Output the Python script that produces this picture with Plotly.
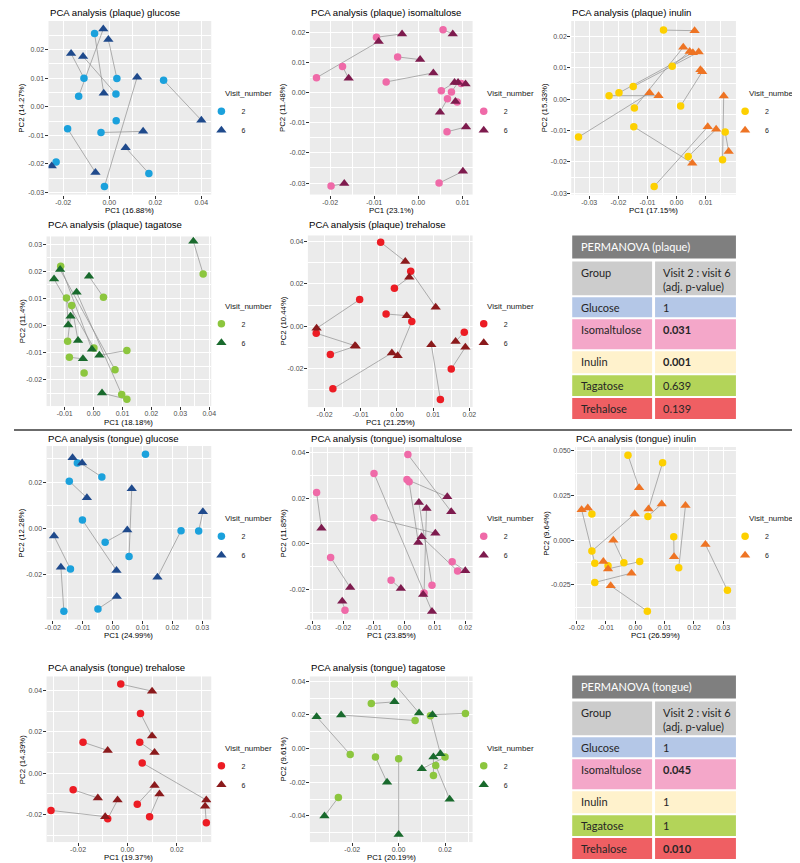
import plotly.graph_objects as go

W, H = 800, 863

# ---------------- data: index i of v2 and v6 lists = same subject (visit 2 -> visit 6) ----------------
# Plaque - glucose
pq_glu_v2_x = [-0.0064, -0.0133, 0.0033, -0.0110, 0.0029, -0.0021, 0.0236, -0.0036, 0.0172, -0.0181, -0.0231, 0.0030]
pq_glu_v2_y = [0.0256, 0.0037, 0.0099, 0.0100, 0.0045, -0.0279, 0.0093, -0.0090, -0.0233, -0.0077, -0.0193, -0.0049]
pq_glu_v6_x = [-0.0024, -0.0026, -0.0004, -0.0166, -0.0114, 0.0121, 0.0400, 0.0147, 0.0071, -0.0060, -0.0250, None]
pq_glu_v6_y = [0.0047, 0.0272, 0.0235, 0.0186, 0.0176, 0.0103, -0.0047, -0.0086, -0.0143, -0.0230, -0.0207, None]

# Plaque - isomaltulose
pq_iso_v2_x = [-0.0095, 0.0056, -0.0047, -0.0231, -0.0172, -0.0073, 0.0052, 0.0075, 0.0097, 0.0066, 0.0088, 0.0065, -0.0198, 0.0047]
pq_iso_v2_y = [0.0183, 0.0208, 0.0118, 0.0049, 0.0086, 0.0035, 0.0006, 0.0002, 0.0030, -0.0021, -0.0031, -0.0130, -0.0310, -0.0300]
pq_iso_v6_x = [-0.0037, 0.0078, 0.0004, -0.0090, -0.0158, 0.0034, 0.0082, 0.0090, 0.0107, 0.0049, 0.0084, 0.0108, -0.0168, 0.0101]
pq_iso_v6_y = [0.0194, 0.0194, 0.0109, 0.0169, 0.0047, 0.0065, 0.0033, 0.0033, 0.0028, -0.0065, -0.0030, -0.0114, -0.0301, -0.0261]

# Plaque - inulin
pq_inu_v2_x = [-0.0045, -0.0232, -0.0337, -0.0198, -0.0149, -0.0145, -0.0015, 0.0014, -0.0077, 0.0040, -0.0147, 0.0167, 0.0158, None]
pq_inu_v2_y = [0.0220, 0.0011, -0.0121, 0.0020, 0.0040, -0.0028, 0.0105, -0.0022, -0.0278, -0.0183, -0.0088, -0.0105, -0.0193, None]
pq_inu_v6_x = [0.0062, -0.0062, -0.0093, 0.0056, 0.0076, 0.0023, 0.0045, 0.0088, 0.0107, 0.0136, 0.0054, 0.0179, 0.0162, 0.0082]
pq_inu_v6_y = [0.0218, 0.0011, 0.0020, 0.0148, 0.0150, 0.0165, 0.0152, 0.0087, -0.0088, -0.0096, -0.0204, -0.0167, 0.0010, 0.0094]

# Plaque - tagatose
pq_tag_v2_x = [0.0379, 0.0034, -0.0114, 0.0001, 0.0074, -0.0094, -0.0076, 0.0097, -0.0090, -0.0084, 0.0115, 0.0115, -0.0033]
pq_tag_v2_y = [0.0190, 0.0104, 0.0218, -0.0083, -0.0163, 0.0101, 0.0074, -0.0254, -0.0058, -0.0117, -0.0092, -0.0272, -0.0175]
pq_tag_v6_x = [0.0345, -0.0016, -0.0006, -0.0137, -0.0116, -0.0088, -0.0054, -0.0059, -0.0080, -0.0037, 0.0020, 0.0029, None]
pq_tag_v6_y = [0.0310, 0.0181, -0.0088, 0.0171, 0.0206, 0.0002, -0.0055, 0.0122, 0.0034, -0.0123, -0.0110, -0.0249, None]

# Plaque - trehalose
pq_tre_v2_x = [-0.0045, -0.0007, 0.0038, -0.0030, -0.0103, -0.0223, -0.0184, -0.0177, 0.0041, 0.0120, 0.0150, 0.0186]
pq_tre_v2_y = [0.0397, 0.0180, 0.0260, 0.0058, 0.0126, -0.0033, -0.0134, -0.0296, 0.0022, -0.0346, -0.0202, -0.0028]
pq_tre_v6_x = [0.0023, 0.0034, 0.0107, 0.0027, -0.0222, -0.0116, -0.0114, -0.0014, 0.0002, 0.0095, 0.0189, 0.0162]
pq_tre_v6_y = [0.0306, 0.0231, 0.0090, 0.0050, -0.0010, -0.0092, -0.0094, -0.0126, -0.0139, -0.0088, -0.0099, -0.0072]

# Tongue - glucose
tg_glu_v2_x = [-0.0036, -0.0118, -0.0145, 0.0055, -0.0025, 0.0288, 0.0229, -0.0101, -0.0141, -0.0163, -0.0049, 0.0110]
tg_glu_v2_y = [0.0222, 0.0283, 0.0204, -0.0122, -0.0060, -0.0011, -0.0010, 0.0036, -0.0176, -0.0358, -0.0348, 0.0320]
tg_glu_v6_x = [-0.0134, -0.0102, -0.0086, 0.0064, 0.0049, 0.0302, 0.0150, 0.0013, -0.0196, -0.0173, 0.0014, None]
tg_glu_v6_y = [0.0305, 0.0283, 0.0132, 0.0171, -0.0007, 0.0072, -0.0211, -0.0182, -0.0033, -0.0168, -0.0294, None]

# Tongue - isomaltulose
tg_iso_v2_x = [-0.0287, 0.0012, 0.0009, 0.0016, -0.0099, -0.0099, 0.0175, 0.0157, -0.0241, -0.0043, 0.0091, 0.0065, -0.0194, None]
tg_iso_v2_y = [0.0226, 0.0393, 0.0283, 0.0273, 0.0310, 0.0115, -0.0119, -0.0078, -0.0059, -0.0159, -0.0181, -0.0215, -0.0291, None]
tg_iso_v6_x = [-0.0271, 0.0154, 0.0141, 0.0046, 0.0091, 0.0102, 0.0057, 0.0200, -0.0177, -0.0011, 0.0048, 0.0073, -0.0203, 0.0062]
tg_iso_v6_y = [0.0069, 0.0142, 0.0207, 0.0007, -0.0296, 0.0047, 0.0032, -0.0118, -0.0191, -0.0196, 0.0182, 0.0156, -0.0251, -0.0222]

# Tongue - inulin
tg_inu_v2_x = [-0.0025, 0.0093, -0.0138, -0.0148, -0.0148, 0.0043, 0.0148, -0.0039, 0.0015, -0.0093, -0.0138, 0.0041, 0.0131, 0.0314]
tg_inu_v2_y = [0.0476, 0.0434, -0.0130, 0.0147, -0.0061, 0.0133, -0.0154, -0.0126, -0.0120, -0.0144, -0.0237, -0.0398, 0.0019, -0.0281]
tg_inu_v6_x = [0.0013, 0.0045, -0.0183, -0.0162, -0.0002, 0.0090, 0.0171, -0.0075, -0.0093, -0.0109, -0.0013, -0.0084, 0.0132, 0.0239]
tg_inu_v6_y = [0.0293, 0.0175, 0.0171, 0.0180, 0.0147, 0.0203, 0.0194, 0.0000, -0.0161, -0.0120, -0.0185, -0.0256, -0.0093, -0.0024]

# Tongue - trehalose
tg_tre_v2_x = [-0.0027, 0.0053, -0.0180, 0.0050, 0.0060, -0.0220, -0.0310, 0.0040, 0.0320, -0.0080, 0.0090]
tg_tre_v2_y = [0.0431, 0.0289, 0.0150, 0.0150, 0.0050, -0.0080, -0.0180, -0.0150, -0.0240, -0.0220, -0.0210]
tg_tre_v6_x = [0.0100, 0.0100, -0.0080, 0.0110, 0.0320, -0.0120, -0.0090, 0.0110, 0.0315, -0.0040, 0.0130]
tg_tre_v6_y = [0.0397, 0.0180, 0.0110, 0.0100, -0.0130, -0.0120, -0.0210, -0.0060, -0.0160, -0.0130, -0.0100]

# Tongue - tagatose
tg_tag_v2_x = [-0.0018, -0.0118, 0.0288, 0.0071, 0.0137, -0.0209, -0.0260, 0.0000, 0.0160, 0.0150, -0.0100, 0.0200]
tg_tag_v2_y = [0.0384, 0.0268, 0.0209, 0.0167, 0.0196, -0.0035, -0.0290, -0.0060, -0.0100, -0.0160, -0.0050, -0.0050]
tg_tag_v6_x = [0.0088, -0.0018, 0.0146, -0.0248, 0.0180, -0.0354, -0.0320, 0.0000, 0.0220, 0.0150, -0.0050, 0.0100]
tg_tag_v6_y = [0.0212, 0.0278, 0.0202, 0.0200, -0.0030, 0.0190, -0.0400, -0.0510, -0.0300, -0.0050, -0.0200, -0.0120]

# tick labels
ticks_pq_glu_x = ["-0.02", "0.00", "0.02", "0.04"]
ticks_pq_glu_y = ["-0.03", "-0.02", "-0.01", "0.00", "0.01", "0.02"]
ticks_pq_iso_x = ["-0.02", "-0.01", "0.00", "0.01"]
ticks_pq_iso_y = ["-0.03", "-0.02", "-0.01", "0.00", "0.01", "0.02"]
ticks_pq_inu_x = ["-0.03", "-0.02", "-0.01", "0.00", "0.01"]
ticks_pq_inu_y = ["-0.03", "-0.02", "-0.01", "0.00", "0.01", "0.02"]
ticks_pq_tag_x = ["-0.01", "0.00", "0.01", "0.02", "0.03", "0.04"]
ticks_pq_tag_y = ["-0.02", "-0.01", "0.00", "0.01", "0.02", "0.03"]
ticks_pq_tre_x = ["-0.02", "-0.01", "0.00", "0.01", "0.02"]
ticks_pq_tre_y = ["-0.02", "0.00", "0.02", "0.04"]
ticks_tg_glu_x = ["-0.02", "-0.01", "0.00", "0.01", "0.02", "0.03"]
ticks_tg_glu_y = ["-0.02", "0.00", "0.02"]
ticks_tg_iso_x = ["-0.03", "-0.02", "-0.01", "0.00", "0.01", "0.02"]
ticks_tg_iso_y = ["-0.02", "0.00", "0.02", "0.04"]
ticks_tg_inu_x = ["-0.02", "-0.01", "0.00", "0.01", "0.02", "0.03"]
ticks_tg_inu_y = ["-0.025", "0.000", "0.025", "0.050"]
ticks_tg_tre_x = ["-0.02", "0.00", "0.02"]
ticks_tg_tre_y = ["-0.02", "0.00", "0.02", "0.04"]
ticks_tg_tag_x = ["-0.02", "0.00", "0.02"]
ticks_tg_tag_y = ["-0.04", "-0.02", "0.00", "0.02", "0.04"]

# PERMANOVA tables
table_groups = ["Glucose", "Isomaltulose", "Inulin", "Tagatose", "Trehalose"]
plaque_pvalues = ["1", "0.031", "0.001", "0.639", "0.139"]
tongue_pvalues = ["1", "0.045", "1", "1", "0.010"]

# ---------------- styling ----------------
COL = {
    "glucose": ("#1ba1dc", "#1f4a8c"),
    "isomaltulose": ("#ef6aa8", "#7e1b4e"),
    "inulin": ("#fdd000", "#ee7424"),
    "tagatose": ("#8cc63e", "#196a2d"),
    "trehalose": ("#ec1c24", "#8b1a1c"),
}
ROW_COL = ["#b4c7e7", "#f4a7c9", "#fff2cc", "#b3d459", "#ef5f63"]
FONT = "Liberation Sans, Arial, sans-serif"
TFONT = "Lato, Open Sans, sans-serif"

panels = [
    dict(title="PCA analysis (plaque) glucose", xlab="PC1 (16.88%)", ylab="PC2 (14.27%)", sugar="glucose",
         d=(pq_glu_v2_x, pq_glu_v2_y, pq_glu_v6_x, pq_glu_v6_y), xt=ticks_pq_glu_x, yt=ticks_pq_glu_y,
         box=(35, 200, 13, 187), xr=(-0.0264, 0.0443), yr=(-0.0307, 0.0300), ty=5, xly=203, yx=8, leg=(212, 86)),
    dict(title="PCA analysis (plaque) isomaltulose", xlab="PC1 (23.1%)", ylab="PC2 (11.48%)", sugar="isomaltulose",
         d=(pq_iso_v2_x, pq_iso_v2_y, pq_iso_v6_x, pq_iso_v6_y), xt=ticks_pq_iso_x, yt=ticks_pq_iso_y,
         box=(300, 465, 13, 187), xr=(-0.0246, 0.0123), yr=(-0.0338, 0.0237), ty=5, xly=203, yx=273, leg=(478, 86)),
    dict(title="PCA analysis (plaque) inulin", xlab="PC1 (17.15%)", ylab="PC2 (15.33%)", sugar="inulin",
         d=(pq_inu_v2_x, pq_inu_v2_y, pq_inu_v6_x, pq_inu_v6_y), xt=ticks_pq_inu_x, yt=ticks_pq_inu_y,
         box=(565, 732, 13, 187), xr=(-0.0362, 0.0204), yr=(-0.0304, 0.0249), ty=5, xly=203, yx=538, leg=(743, 86)),
    dict(title="PCA analysis (plaque) tagatose", xlab="PC1 (18.18%)", ylab="PC2 (11.4%)", sugar="tagatose",
         d=(pq_tag_v2_x, pq_tag_v2_y, pq_tag_v6_x, pq_tag_v6_y), xt=ticks_pq_tag_x, yt=ticks_pq_tag_y,
         box=(33, 200, 229, 399), xr=(-0.0163, 0.0407), yr=(-0.0297, 0.0328), ty=217, xly=415, yx=8, leg=(212, 299)),
    dict(title="PCA analysis (plaque) trehalose", xlab="PC1 (21.25%)", ylab="PC2 (10.44%)", sugar="trehalose",
         d=(pq_tre_v2_x, pq_tre_v2_y, pq_tre_v6_x, pq_tre_v6_y), xt=ticks_pq_tre_x, yt=ticks_pq_tre_y,
         box=(298, 465, 228, 400), xr=(-0.0246, 0.0209), yr=(-0.0382, 0.0429), ty=217, xly=415, yx=273, leg=(478, 299)),
    dict(title="PCA analysis (tongue) glucose", xlab="PC1 (24.99%)", ylab="PC2 (12.28%)", sugar="glucose",
         d=(tg_glu_v2_x, tg_glu_v2_y, tg_glu_v6_x, tg_glu_v6_y), xt=ticks_tg_glu_x, yt=ticks_tg_glu_y,
         box=(33, 200, 439, 613), xr=(-0.0221, 0.0330), yr=(-0.0394, 0.0356), ty=431, xly=629, yx=8, leg=(212, 512)),
    dict(title="PCA analysis (tongue) isomaltulose", xlab="PC1 (23.85%)", ylab="PC2 (11.85%)", sugar="isomaltulose",
         d=(tg_iso_v2_x, tg_iso_v2_y, tg_iso_v6_x, tg_iso_v6_y), xt=ticks_tg_iso_x, yt=ticks_tg_iso_y,
         box=(300, 465, 440, 613), xr=(-0.0309, 0.0224), yr=(-0.0332, 0.0426), ty=431, xly=629, yx=273, leg=(478, 512)),
    dict(title="PCA analysis (tongue) inulin", xlab="PC1 (26.59%)", ylab="PC2 (9.64%)", sugar="inulin",
         d=(tg_inu_v2_x, tg_inu_v2_y, tg_inu_v6_x, tg_inu_v6_y), xt=ticks_tg_inu_x, yt=ticks_tg_inu_y,
         box=(569, 732, 440, 613), xr=(-0.0205, 0.0343), yr=(-0.0445, 0.0522), ty=431, xly=629, yx=540, leg=(743, 512)),
    dict(title="PCA analysis (tongue) trehalose", xlab="PC1 (19.37%)", ylab="PC2 (14.39%)", sugar="trehalose",
         d=(tg_tre_v2_x, tg_tre_v2_y, tg_tre_v6_x, tg_tre_v6_y), xt=ticks_tg_tre_x, yt=ticks_tg_tre_y,
         box=(33, 200, 670, 836), xr=(-0.0328, 0.0340), yr=(-0.0333, 0.0468), ty=661, xly=851, yx=8, leg=(212, 742)),
    dict(title="PCA analysis (tongue) tagatose", xlab="PC1 (20.19%)", ylab="PC2 (9.61%)", sugar="tagatose",
         d=(tg_tag_v2_x, tg_tag_v2_y, tg_tag_v6_x, tg_tag_v6_y), xt=ticks_tg_tag_x, yt=ticks_tg_tag_y,
         box=(300, 465, 670, 836), xr=(-0.0383, 0.0319), yr=(-0.0555, 0.0429), ty=661, xly=851, yx=273, leg=(478, 742)),
]


def fx(p):
    return p / W


def fy(p):
    return 1 - p / H


def minors(vals, rng):
    vals = sorted(vals)
    step = vals[1] - vals[0]
    cand = [vals[0] - step / 2] + [v + step / 2 for v in vals]
    return [c for c in cand if rng[0] <= c <= rng[1]]


fig = go.Figure()
layout = dict(width=W, height=H, margin=dict(l=0, r=0, t=0, b=0), autosize=False,
              paper_bgcolor="white", plot_bgcolor="#ebebeb", font=dict(family=FONT),
              annotations=[], shapes=[])

for i, p in enumerate(panels, start=1):
    sx = "" if i == 1 else str(i)
    xa, ya = "x" + sx, "y" + sx
    lg = "legend" + sx
    v2x, v2y, v6x, v6y = p["d"]
    c2, c6 = COL[p["sugar"]]
    lx, ly = [], []
    for a, b, c, d in zip(v2x, v2y, v6x, v6y):
        if a is not None and c is not None:
            lx += [a, c, None]
            ly += [b, d, None]
    fig.add_trace(go.Scatter(x=lx, y=ly, mode="lines", line=dict(color="#8f8f8f", width=0.7),
                             xaxis=xa, yaxis=ya, showlegend=False, hoverinfo="skip"))
    fig.add_trace(go.Scatter(x=[v for v in v2x if v is not None], y=[v for v in v2y if v is not None],
                             mode="markers", name="2", legend=lg, xaxis=xa, yaxis=ya,
                             marker=dict(symbol="circle", size=7.5, color=c2, line=dict(width=0))))
    fig.add_trace(go.Scatter(x=[v for v in v6x if v is not None], y=[v for v in v6y if v is not None],
                             mode="markers", name="6", legend=lg, xaxis=xa, yaxis=ya,
                             marker=dict(symbol="triangle-up", size=9, color=c6, line=dict(width=0))))
    l, r, t, b = p["box"]
    xtv = [float(s) for s in p["xt"]]
    ytv = [float(s) for s in p["yt"]]
    common = dict(showgrid=True, gridcolor="white", gridwidth=1.1, zeroline=False, showline=False,
                  ticks="outside", ticklen=3, tickwidth=0.8, tickcolor="#333333",
                  tickfont=dict(size=7, color="#4d4d4d", family=FONT), tickmode="array")
    layout["xaxis" + sx] = dict(domain=[fx(l), fx(r)], range=list(p["xr"]), anchor=ya,
                                tickvals=xtv, ticktext=p["xt"], ticklabelstandoff=-2,
                                minor=dict(tickvals=minors(xtv, p["xr"]), showgrid=True, gridcolor="white", gridwidth=0.5),
                                **common)
    layout["yaxis" + sx] = dict(domain=[fy(b), fy(t)], range=list(p["yr"]), anchor=xa,
                                tickvals=ytv, ticktext=p["yt"], ticklabelstandoff=-1,
                                minor=dict(tickvals=minors(ytv, p["yr"]), showgrid=True, gridcolor="white", gridwidth=0.5),
                                **common)
    gx, gy = p["leg"]
    layout[lg] = dict(x=fx(gx - 22), y=fy(gy + 3), xanchor="left", yanchor="top",
                      bgcolor="rgba(0,0,0,0)", font=dict(size=7, color="#1a1a1a", family=FONT),
                      itemsizing="trace", tracegroupgap=0, itemwidth=30)
    ann = layout["annotations"]
    ann.append(dict(text="Visit_number", x=fx(gx), y=fy(gy), xref="paper", yref="paper",
                    xanchor="left", yanchor="middle", showarrow=False, font=dict(size=8, color="#1a1a1a")))
    ann.append(dict(text=p["title"], x=fx(l - 1), y=fy(p["ty"]), xref="paper", yref="paper",
                    xanchor="left", yanchor="middle", showarrow=False, font=dict(size=9.6, color="#000000")))
    ann.append(dict(text=p["xlab"], x=fx((l + r) / 2), y=fy(p["xly"]), xref="paper", yref="paper",
                    xanchor="center", yanchor="middle", showarrow=False, font=dict(size=7.8, color="#000000")))
    ann.append(dict(text=p["ylab"], x=fx(p["yx"]), y=fy((t + b) / 2), xref="paper", yref="paper",
                    xanchor="center", yanchor="middle", textangle=-90, showarrow=False,
                    font=dict(size=7.8, color="#000000")))

# tables
C1 = (566, 647)
C2 = (650, 732)


def add_table(top, title, pvals):
    shapes = layout["shapes"]
    ann = layout["annotations"]
    hdr = (top, top + 23)
    grp = (top + 26, top + 60)
    row_h = [20, 30, 22, 21, 21]
    shapes.append(dict(type="rect", xref="paper", yref="paper", x0=fx(C1[0]), x1=fx(C2[1]),
                       y0=fy(hdr[1]), y1=fy(hdr[0]), fillcolor="#7f7f7f", line=dict(width=0), layer="below"))
    ann.append(dict(text=title, x=fx(C1[0] + 7), y=fy(hdr[0] + 11.5), xref="paper", yref="paper",
                    xanchor="left", yanchor="middle", showarrow=False,
                    font=dict(family=TFONT, size=11, color="white")))
    for c in (C1, C2):
        shapes.append(dict(type="rect", xref="paper", yref="paper", x0=fx(c[0]), x1=fx(c[1]),
                           y0=fy(grp[1]), y1=fy(grp[0]), fillcolor="#cccccc", line=dict(width=0), layer="below"))
    ann.append(dict(text="Group", x=fx(C1[0] + 7), y=fy(grp[0] + 3), xref="paper", yref="paper",
                    xanchor="left", yanchor="top", showarrow=False, font=dict(family=TFONT, size=11, color="#262626")))
    ann.append(dict(text="Visit 2 : visit 6<br>(adj. p-value)", x=fx(C2[0] + 6), y=fy(grp[0] + 3),
                    xref="paper", yref="paper", xanchor="left", yanchor="top", align="left", showarrow=False,
                    font=dict(family=TFONT, size=11, color="#262626")))
    y0 = grp[1] + 2
    for g, pv, col, h in zip(table_groups, pvals, ROW_COL, row_h):
        for c in (C1, C2):
            shapes.append(dict(type="rect", xref="paper", yref="paper", x0=fx(c[0]), x1=fx(c[1]),
                               y0=fy(y0 + h), y1=fy(y0), fillcolor=col, line=dict(width=0), layer="below"))
        bold = float(pv) < 0.05
        ann.append(dict(text=g, x=fx(C1[0] + 7), y=fy(y0 + 10), xref="paper", yref="paper",
                        xanchor="left", yanchor="middle", showarrow=False,
                        font=dict(family=TFONT, size=11, color="#262626")))
        ann.append(dict(text=("<b>%s</b>" % pv) if bold else pv, x=fx(C2[0] + 6), y=fy(y0 + 10),
                        xref="paper", yref="paper", xanchor="left", yanchor="middle", showarrow=False,
                        font=dict(family=TFONT, size=11, color="#262626")))
        y0 += h + 2


add_table(228, "PERMANOVA (plaque)", plaque_pvalues)
add_table(669, "PERMANOVA (tongue)", tongue_pvalues)

# divider between plaque and tongue halves
layout["shapes"].append(dict(type="line", xref="paper", yref="paper", x0=0, x1=1, y0=fy(423), y1=fy(423),
                             line=dict(color="#3a3a3a", width=1.5)))

fig.update_layout(**layout)
fig.write_html("out.html")
